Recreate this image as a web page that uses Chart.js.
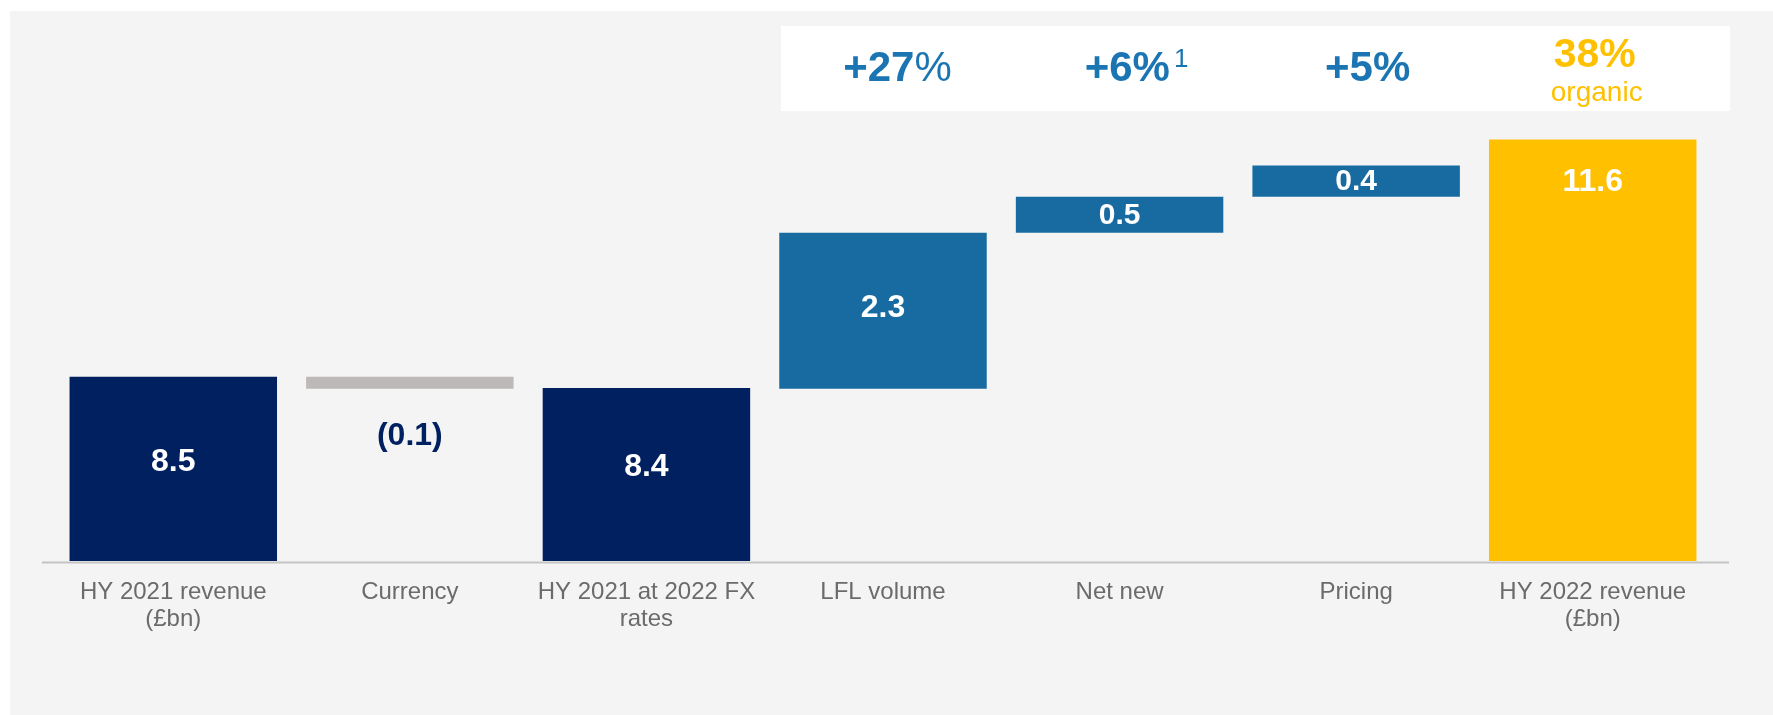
<!DOCTYPE html>
<html lang="en">
<head>
    <meta charset="UTF-8">
    <title>Revenue bridge</title>
    <style>
        body { margin: 0; background: #ffffff; }
        .chartBox { width: 1773px; height: 715px; }
    </style>
</head>
<body>

    <div class="chartBox">
        <canvas id="myChart"></canvas>
    </div>

    <script src="https://cdn.jsdelivr.net/npm/chart.js"></script>

    <script>
        // categories (multi-line x labels)
        const categories = [
            ['HY 2021 revenue', '(£bn)'],
            'Currency',
            ['HY 2021 at 2022 FX', 'rates'],
            'LFL volume',
            'Net new',
            'Pricing',
            ['HY 2022 revenue', '(£bn)']
        ];

        // bar bottom / top (axis does not start at zero)
        const axisMin = 6.09;
        const axisMax = 13.24;
        const barStart = [axisMin, 8.34, axisMin, 8.34, 10.38, 10.85, axisMin];
        const barEnd   = [8.5,     8.5,  8.35,    10.38, 10.85, 11.26, 11.6];

        // printed values
        const valueLabels = ['8.5', '(0.1)', '8.4', '2.3', '0.5', '0.4', '11.6'];

        // growth rates shown in the white box (over bars 3..6)
        const growthText = ['+27', '+6%', '+5%', '38%'];
        const growthNote = ['%', '1', '', 'organic'];

        const NAVY = '#002060';
        const BLUE = '#176ba0';
        const GREY = '#bdb9b8';
        const GOLD = '#ffc000';
        const barColors = [NAVY, GREY, NAVY, BLUE, BLUE, BLUE, GOLD];
        const FONT = '"Liberation Sans", Arial, sans-serif';

        //setup
        const data = {
            labels: categories,
            datasets: [{
                data: barStart.map((s, i) => [s, barEnd[i]]),
                backgroundColor: barColors,
                borderWidth: 0,
                categoryPercentage: 1,
                barPercentage: 0.877
            }]
        };

        // background panel, header box, axis line, labels
        const decor = {
            id: 'decor',
            beforeDraw(chart) {
                const ctx = chart.ctx;
                ctx.save();
                ctx.fillStyle = '#ffffff';
                ctx.fillRect(0, 0, chart.width, chart.height);
                ctx.fillStyle = '#f4f4f4';
                ctx.fillRect(10, 11, chart.width - 10, chart.height - 11);
                ctx.fillStyle = '#ffffff';
                ctx.fillRect(781, 26, 949, 85);
                ctx.restore();
            },
            afterDatasetsDraw(chart) {
                const ctx = chart.ctx;
                const bars = chart.getDatasetMeta(0).data;
                const area = chart.chartArea;
                ctx.save();

                // x axis line
                ctx.strokeStyle = '#c4c4c4';
                ctx.lineWidth = 2;
                ctx.beginPath();
                ctx.moveTo(42, area.bottom + 1.5);
                ctx.lineTo(1729, area.bottom + 1.5);
                ctx.stroke();

                // value labels
                ctx.textAlign = 'center';
                ctx.textBaseline = 'middle';
                bars.forEach((bar, i) => {
                    let y = (bar.y + bar.base) / 2;
                    let size = 32;
                    let color = '#ffffff';
                    if (i === 0 || i === 2) y -= 7;
                    if (i === 1) { y = bar.base + 47; color = NAVY; }
                    if (i === 3) y -= 3;
                    if (i === 4 || i === 5) { size = 30; y += 1; }
                    if (i === 6) y = bar.y + 43;
                    ctx.fillStyle = color;
                    ctx.font = 'bold ' + size + 'px ' + FONT;
                    ctx.fillText(valueLabels[i], bar.x, y);
                });

                // growth header
                ctx.textBaseline = 'alphabetic';
                ctx.textAlign = 'left';
                const hb = '#1b75b3';
                const shift = [14.5, 17, 11.5, 2];
                for (let k = 0; k < 4; k++) {
                    const cx = bars[k + 3].x + shift[k];
                    const mainFont = 'bold ' + (k === 3 ? 41 : 42) + 'px ' + FONT;
                    ctx.font = mainFont;
                    const w1 = ctx.measureText(growthText[k]).width;
                    let w2 = 0, noteFont = '';
                    if (k === 0) noteFont = '42px ' + FONT;
                    if (k === 1) noteFont = '26px ' + FONT;
                    if (noteFont) {
                        ctx.font = noteFont;
                        w2 = ctx.measureText(growthNote[k]).width + (k === 1 ? 4 : 0);
                    }
                    const x0 = cx - (w1 + w2) / 2;
                    ctx.font = mainFont;
                    ctx.fillStyle = k === 3 ? GOLD : hb;
                    ctx.fillText(growthText[k], x0, k === 3 ? 67 : 81);
                    if (k === 0) {
                        ctx.font = noteFont;
                        ctx.fillText(growthNote[k], x0 + w1, 81);
                    }
                    if (k === 1) {
                        ctx.font = noteFont;
                        ctx.fillText(growthNote[k], x0 + w1 + 4, 67);
                    }
                    if (k === 3) {
                        ctx.font = '28px ' + FONT;
                        ctx.textAlign = 'center';
                        ctx.fillText(growthNote[k], cx + 2, 101);
                        ctx.textAlign = 'left';
                    }
                }
                ctx.restore();
            }
        };

        //config
        const config = {
            type: 'bar',
            data,
            options: {
                responsive: true,
                maintainAspectRatio: false,
                devicePixelRatio: 1,
                animation: false,
                layout: { padding: { top: 14, left: 55, right: 62, bottom: 64 } },
                plugins: {
                    legend: { display: false },
                    tooltip: { enabled: false }
                },
                scales: {
                    x: {
                        grid: { display: false, drawTicks: false },
                        border: { display: false },
                        ticks: {
                            color: '#6b6b6b',
                            padding: 18,
                            autoSkip: false,
                            maxRotation: 0,
                            font: { family: FONT, size: 24, lineHeight: '27px' }
                        }
                    },
                    y: {
                        display: false,
                        min: axisMin,
                        max: axisMax
                    }
                }
            },
            plugins: [decor]
        };

        //render init
        const myChart = new Chart(
            document.getElementById('myChart'),
            config
        );
    </script>
</body>
</html>
